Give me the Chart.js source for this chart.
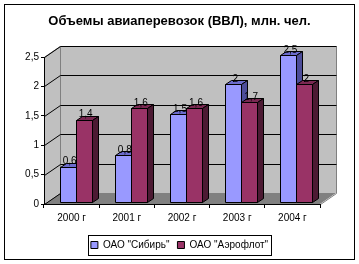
<!DOCTYPE html>
<html>
<head>
<meta charset="utf-8">
<script src="https://cdn.jsdelivr.net/npm/chart.js@4.4.1/dist/chart.umd.min.js"></script>
<style>
  html, body { margin: 0; padding: 0; background: #fff; }
</style>
</head>
<body>
<canvas id="chart" width="359" height="264"></canvas>
<script>
// Data
const years = ['2000 г', '2001 г', '2002 г', '2003 г', '2004 г'];
const sibir = [0.6, 0.8, 1.5, 2, 2.5];
const aeroflot = [1.4, 1.6, 1.6, 1.7, 2];
const yTicks = ['0', '0,5', '1', '1,5', '2', '2,5'];

const FONT = "'Liberation Sans', Arial, sans-serif";

// 3D look: back wall depth, bar offset and bar depth
const WALL_DX = 16, WALL_DY = -11;
const BAR_SX = 4, BAR_SY = -2;
const BAR_DX = 6, BAR_DY = -4;

const faceColors = [
    { front: '#9999ff', top: '#6b6bcc', side: '#4d4d99' },
    { front: '#993366', top: '#7a2952', side: '#4c1a33' }
];

function poly(ctx, pts, fill, stroke) {
    ctx.beginPath();
    ctx.moveTo(pts[0][0], pts[0][1]);
    for (let i = 1; i < pts.length; i++) ctx.lineTo(pts[i][0], pts[i][1]);
    ctx.closePath();
    if (fill) { ctx.fillStyle = fill; ctx.fill(); }
    if (stroke) { ctx.strokeStyle = stroke; ctx.stroke(); }
}

const frame3d = {
    id: 'frame3d',
    beforeDraw(chart) {
        const ctx = chart.ctx;
        const a = chart.chartArea;
        const ys = chart.scales.y;
        const L = Math.round(a.left), R = Math.round(a.right);
        const T = Math.round(a.top), B = Math.round(a.bottom);
        ctx.save();
        ctx.fillStyle = '#fff';
        ctx.fillRect(0, 0, chart.width, chart.height);
        ctx.lineWidth = 1;
        ctx.strokeStyle = '#000';
        ctx.strokeRect(4.5, 4.5, 350, 255);

        // floor
        poly(ctx, [[L, B], [R, B], [R + WALL_DX, B + WALL_DY], [L + WALL_DX, B + WALL_DY]], '#808080', null);
        // left wall
        poly(ctx, [[L, T], [L + WALL_DX, T + WALL_DY], [L + WALL_DX, B + WALL_DY], [L, B]], '#c0c0c0', null);
        // back wall
        ctx.fillStyle = '#c0c0c0';
        ctx.fillRect(L + WALL_DX, T + WALL_DY, R - L, B - T);

        // outline edges
        ctx.strokeStyle = '#808080';
        ctx.beginPath();
        ctx.moveTo(L + 0.5, T + 0.5);
        ctx.lineTo(L + WALL_DX + 0.5, T + WALL_DY + 0.5);
        ctx.lineTo(R + WALL_DX + 0.5, T + WALL_DY + 0.5);
        ctx.lineTo(R + WALL_DX + 0.5, B + WALL_DY + 0.5);
        ctx.lineTo(R + 0.5, B + 0.5);
        ctx.moveTo(L + WALL_DX + 0.5, T + WALL_DY + 0.5);
        ctx.lineTo(L + WALL_DX + 0.5, B + WALL_DY + 0.5);
        ctx.stroke();

        // grid lines on back and left walls
        ctx.strokeStyle = '#000';
        ys.ticks.forEach(t => {
            const py = Math.round(ys.getPixelForValue(t.value)) + 0.5;
            ctx.beginPath();
            ctx.moveTo(L + 0.5, py);
            ctx.lineTo(L + WALL_DX + 0.5, py + WALL_DY);
            if (t.value > 0) ctx.lineTo(R + WALL_DX + 0.5, py + WALL_DY);
            ctx.stroke();
        });
        ctx.restore();
    },
    beforeDatasetsDraw(chart) {
        const ctx = chart.ctx;
        ctx.save();
        ctx.lineWidth = 1;
        ctx.lineJoin = 'miter';
        const metas = [chart.getDatasetMeta(0), chart.getDatasetMeta(1)];
        for (let i = 0; i < years.length; i++) {
            metas.forEach((meta, d) => {
                const bar = meta.data[i];
                const c = faceColors[d];
                const x0 = Math.round(bar.x - bar.width / 2) + BAR_SX + 0.5;
                const x1 = Math.round(bar.x + bar.width / 2) + BAR_SX + 0.5;
                const yt = Math.round(bar.y) + BAR_SY + 0.5;
                const yb = Math.round(bar.base) + BAR_SY + 0.5;
                poly(ctx, [[x0, yt], [x1, yt], [x1, yb], [x0, yb]], c.front, '#000');
                poly(ctx, [[x0, yt], [x0 + BAR_DX, yt + BAR_DY], [x1 + BAR_DX, yt + BAR_DY], [x1, yt]], c.top, '#000');
                poly(ctx, [[x1, yt], [x1 + BAR_DX, yt + BAR_DY], [x1 + BAR_DX, yb + BAR_DY], [x1, yb]], c.side, '#000');
            });
        }
        // value labels
        ctx.fillStyle = '#000';
        ctx.font = '10px ' + FONT;
        ctx.textAlign = 'center';
        ctx.textBaseline = 'middle';
        metas.forEach((meta, d) => {
            const values = chart.data.datasets[d].data;
            meta.data.forEach((bar, i) => {
                const txt = String(values[i]).replace('.', ',');
                ctx.fillText(txt, bar.x + BAR_SX + 2, bar.y + BAR_SY - 5);
            });
        });
        ctx.restore();
        return false;
    },
    afterDraw(chart) {
        // frame round the legend
        const boxes = chart.legend.legendHitBoxes;
        if (!boxes || !boxes.length) return;
        const first = boxes[0], last = boxes[boxes.length - 1];
        const ctx = chart.ctx;
        const left = Math.round(first.left) - 2.5;
        const right = Math.round(last.left + last.width) + 3.5;
        const mid = Math.round(first.top + first.height / 2);
        ctx.save();
        ctx.strokeStyle = '#000';
        ctx.lineWidth = 1;
        ctx.strokeRect(left, mid - 10 + 0.5, right - left, 20);
        ctx.restore();
    }
};

const ctx = document.getElementById('chart').getContext('2d');
new Chart(ctx, {
    type: 'bar',
    data: {
        labels: years,
        datasets: [
            { label: 'ОАО "Сибирь"', data: sibir, backgroundColor: '#9999ff', borderColor: '#000', borderWidth: 1 },
            { label: 'ОАО "Аэрофлот"', data: aeroflot, backgroundColor: '#993366', borderColor: '#000', borderWidth: 1 }
        ]
    },
    options: {
        responsive: false,
        animation: false,
        events: [],
        layout: { padding: { left: 5, right: 5, top: 5, bottom: 4 } },
        datasets: { bar: { categoryPercentage: 0.58, barPercentage: 1 } },
        plugins: {
            title: {
                display: true,
                text: 'Объемы авиаперевозок (ВВЛ), млн. чел.',
                color: '#000',
                font: { family: FONT, size: 13, weight: 'bold' },
                padding: { top: 9, bottom: 27.4 }
            },
            legend: {
                position: 'bottom',
                labels: {
                    color: '#000',
                    font: { family: FONT, size: 10 },
                    boxWidth: 7,
                    boxHeight: 7,
                    padding: 8
                }
            },
            tooltip: { enabled: false }
        },
        scales: {
            x: {
                grid: { drawOnChartArea: false, color: '#000', tickLength: 4, offset: true },
                border: { color: '#000' },
                ticks: { color: '#000', font: { family: FONT, size: 10 }, padding: 4, maxRotation: 0 },
                afterFit: s => { s.height = 28; }
            },
            y: {
                min: 0,
                max: 2.5,
                ticks: {
                    stepSize: 0.5,
                    color: '#000',
                    font: { family: FONT, size: 10 },
                    padding: 2,
                    callback: (v, i) => yTicks[i]
                },
                grid: { drawOnChartArea: false, color: '#000', tickLength: 3 },
                border: { color: '#000' },
                afterFit: s => { s.width = 39; }
            },
            yRight: {
                position: 'right',
                display: true,
                grid: { display: false },
                border: { display: false },
                ticks: { display: false },
                afterFit: s => { s.width = 34; }
            }
        }
    },
    plugins: [frame3d]
});
</script>
</body>
</html>
